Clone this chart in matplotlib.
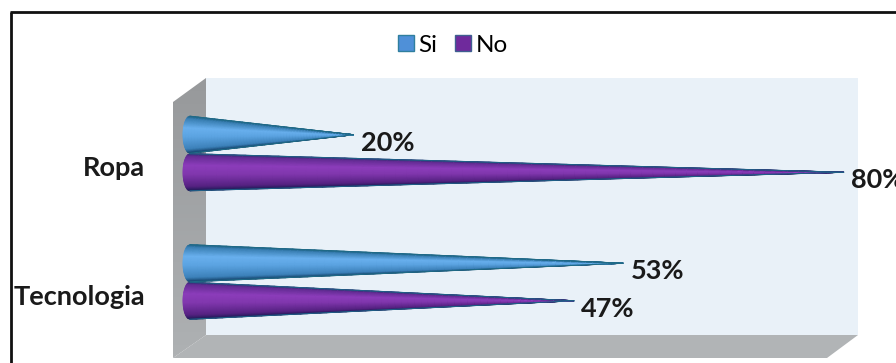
import numpy as np
import matplotlib
matplotlib.use("Agg")
import matplotlib.pyplot as plt
from matplotlib.colors import LinearSegmentedColormap
from matplotlib.patches import Patch, Polygon

# ------------------------------------------------------
# Data
# ------------------------------------------------------
categories = ["Tecnologia", "Ropa"]
series_names = ["Si", "No"]
si_values = [53, 20]
no_values = [47, 80]

# ------------------------------------------------------
# Layout (figure pixels)
# ------------------------------------------------------
W, H = 896, 363
ZERO_PX = 190.0      # where 0% sits on the x axis
PCT_PX = 8.17        # pixels per percentage point
ROW_TOP_PX = 153.5   # centre of the Ropa row
ROW_GAP_PX = 128.5   # distance between rows
OFFSET = 0.146       # cone centre offset from row centre
HALF = 0.144         # cone half height at the base
BULGE = 0.85         # depth of the rounded base, in percent

BACK = [(206, 78), (858, 78), (858, 335), (206, 335)]
SIDE = [(173, 102), (206, 78), (206, 335), (173, 358)]
FLOOR = [(206, 335), (858, 335), (827, 358), (173, 358)]

si_cmap = LinearSegmentedColormap.from_list("si", [
    (0.0, "#1f6488"), (0.05, "#3a80b4"), (0.3, "#69b0ee"), (0.55, "#5ca4e2"),
    (0.88, "#3d82bb"), (1.0, "#123f66")])
no_cmap = LinearSegmentedColormap.from_list("no", [
    (0.0, "#2f2f72"), (0.05, "#642c94"), (0.3, "#8c3dbb"), (0.55, "#8137ae"),
    (0.88, "#562282"), (1.0, "#1c1a55")])


def draw_cone(ax, value, center, cmap, edge):
    # rounded base and narrowing body, shaded across the cone
    t = np.linspace(-1, 1, 41)
    s = np.linspace(0, 1, 60)
    T, S = np.meshgrid(t, s)
    base = -BULGE * np.sqrt(1 - T ** 2)
    X = base + S * (value - base)
    Y = center + T * HALF * (1 - S)
    ax.pcolormesh(X, Y, (1 - T) / 2, cmap=cmap, vmin=0, vmax=1,
                  shading="gouraud", zorder=3)
    ax.plot(X[:, 0], Y[:, 0], color=edge, lw=0.8, zorder=4)
    ax.plot(X[:, -1], Y[:, -1], color=edge, lw=0.8, zorder=4)


fig = plt.figure(figsize=(W / 100, H / 100), dpi=100, facecolor="white")

# ------------------------------------------------------
# Frame and 3D walls, drawn in pixel coordinates
# ------------------------------------------------------
bg = fig.add_axes([0, 0, 1, 1])
bg.set_xlim(0, W)
bg.set_ylim(H, 0)
bg.axis("off")
bg.add_patch(Polygon(BACK, closed=True, fc="#e9f1f8", ec="none"))
bg.add_patch(Polygon(FLOOR, closed=True, fc="#b1b4b6", ec="none"))
wall = bg.imshow(np.linspace(0, 1, 64).reshape(-1, 1),
                 extent=(173, 206, 358, 78), aspect="auto", zorder=2,
                 cmap=LinearSegmentedColormap.from_list("wall", ["#97999b", "#aeb1b3"]))
wall.set_clip_path(Polygon(SIDE, closed=True, transform=bg.transData))
bg.set_xlim(0, W)
bg.set_ylim(H, 0)
bg.plot([11, 11], [H, 12], color="#111111", lw=2, solid_capstyle="butt", zorder=5)
bg.plot([10, W], [12, 12], color="#111111", lw=2, solid_capstyle="butt", zorder=5)

# ------------------------------------------------------
# Cones on the data axes
# ------------------------------------------------------
ax = fig.add_axes([0, 0, 1, 1])
ax.patch.set_alpha(0)
ax.set_xlim(-ZERO_PX / PCT_PX, (W - ZERO_PX) / PCT_PX)
row_zero = ROW_TOP_PX + ROW_GAP_PX
ax.set_ylim(-(H - row_zero) / ROW_GAP_PX, row_zero / ROW_GAP_PX)
ax.axis("off")

font = ["Lato", "DejaVu Sans"]
for i, cat in enumerate(categories):
    draw_cone(ax, si_values[i], i + OFFSET, si_cmap, "#1f6a86")
    draw_cone(ax, no_values[i], i - OFFSET, no_cmap, "#1f5f86")
    ax.annotate(f"{si_values[i]}%", (si_values[i], i + OFFSET), xytext=(8, -8),
                textcoords="offset pixels", va="center", fontsize=19.5,
                fontweight="bold", color="#1a1a1a", family=font, zorder=6)
    ax.annotate(f"{no_values[i]}%", (no_values[i], i - OFFSET), xytext=(7, -8),
                textcoords="offset pixels", va="center", fontsize=19.5,
                fontweight="bold", color="#1a1a1a", family=font, zorder=6)
    ax.annotate(cat, (0, i), xytext=(-45, -15), textcoords="offset pixels",
                ha="right", va="center", fontsize=19.5, fontweight="bold",
                color="#1a1a1a", family=font, zorder=6)

handles = [Patch(fc="#4f90d8", ec="#2f7f9e", label=series_names[0]),
           Patch(fc="#6f2a9c", ec="#3f5f90", label=series_names[1])]
fig.legend(handles=handles, loc="center", bbox_to_anchor=(453 / W, 1 - 45 / H),
           ncol=2, frameon=False, handlelength=0.66, handleheight=0.66,
           handletextpad=0.2, columnspacing=0.72, prop={"family": font, "size": 17.5})

fig.savefig("out.png", dpi=100)
